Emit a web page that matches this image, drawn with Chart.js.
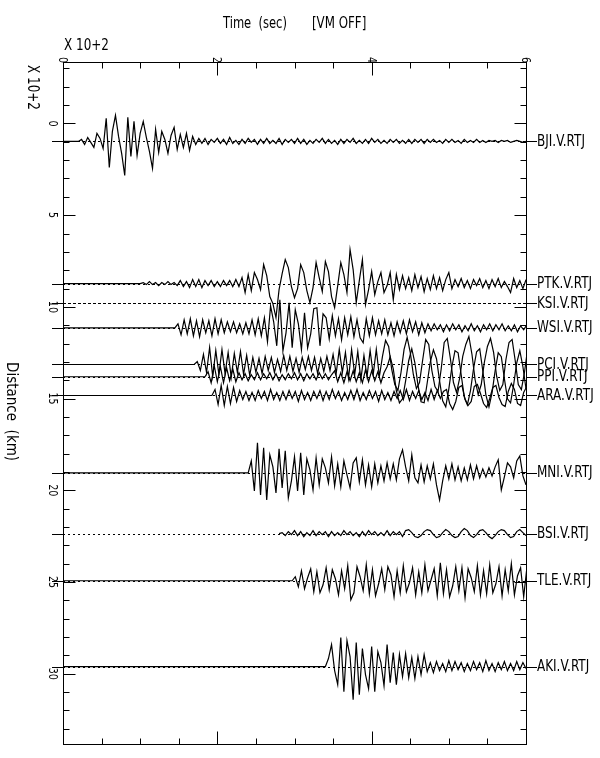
<!DOCTYPE html>
<html>
<head>
<meta charset="utf-8">
<script src="https://cdn.jsdelivr.net/npm/chart.js@4.4.1/dist/chart.umd.min.js"></script>
<style>
  html, body { margin: 0; padding: 0; background: #fff; }
  #wrap { position: relative; width: 600px; height: 758px; }
</style>
</head>
<body>
<div id="wrap"><canvas id="chart"></canvas></div>
<script>
// record section, time in x10+2 sec, distance in x10+2 km
const stations = ["BJI.V.RTJ", "PTK.V.RTJ", "KSI.V.RTJ", "WSI.V.RTJ", "PCI.V.RTJ", "PPI.V.RTJ",
  "ARA.V.RTJ", "MNI.V.RTJ", "BSI.V.RTJ", "TLE.V.RTJ", "AKI.V.RTJ"];
const distances = [0.98, 8.73, 9.81, 11.14, 13.14, 13.81, 14.83, 19.05, 22.36, 24.93, 29.61];
const onsets = [0.2, 1.0, null, 1.45, 1.7, 1.84, 1.93, 2.4, 2.8, 2.97, 3.4];
const flatFromZero = [true, true, false, true, true, true, true, true, false, true, true];
const deadTrace = [false, false, true, false, false, false, false, false, false, false, false];

const timeTicks = [0, 2, 4, 6];
const distanceTicks = [0, 5, 10, 15, 20, 25, 30];

const timeStep = 0.04;     // one sample = 4 sec
const countToKm = 0.0546;  // trace gain

// trace samples (counts), one every timeStep from the onset
const bji = [0,2,-3,4,-1,-6,8,3,-7,23,-26,10,26,5,-12,-34,24,-15,20,-14,8,20,4,-10,-27,12,-11,10,2,-12,6,14,-8,7,-6,8,-9,5,-3,3,
  -2,3,-3,2,-1,3,-2,2,-3,4,-2,1,-3,2,-2,3,-1,2,-3,2,-2,3,-2,1,-2,3,-3,2,-1,2,-2,3,-2,2,-3,1,-2,2,-1,3,
  -2,2,-2,1,-3,2,-2,2,-1,3,-2,1,-2,2,-2,3,-1,2,-2,1,-2,2,-1,2,-2,1,-2,2,-2,2,-1,2,-2,2,-1,2,-1,1,-2,2,
  -1,2,-1,1,-2,2,-1,1,-1,2,-1,1,-1,1,0,1,-1,1,0,1,-1,0,1,0,-1,0,0,0,0,0];
const ptk = [0,1,-1,2,-1,1,-2,1,-1,2,-1,1,-2,
  3,-3,2,-4,4,-3,4,-4,
  3,-2,3,-3,2,-3,3,-2,3,-3,4,-3,
  6,-9,9,-7,
  11,4,-6,19,8,-13,-20,-34,-6,10,24,16,-3,-14,-5,19,11,-7,-19,-4,21,6,-8,22,12,-13,-24,-2,21,9,-9,34,14,-19,3,24,-21,-6,12,-11,2,11,-9,-2,11,-16,9,-6,
  8,-5,6,-7,9,-4,7,-8,5,-6,8,-5,6,-7,4,11,
  -5,4,-3,5,-4,3,-5,4,-2,5,-4,3,-5,4,-3,5,-4,2,-3,
  -9,5,-4,3,-5,4,-3];
const ksi = [];
const wsi = [0,4,-7,8,-6,9,-8,7,-9,8,-5,7,-8,9,-6,8,
  -5,6,-4,6,-5,4,-6,5,-6,
  8,-7,9,-8,10,
  -14,22,6,-18,28,-23,-5,25,-20,18,4,-22,15,-20,-6,19,20,-18,14,
  10,-11,12,-8,9,-12,10,-7,11,-9,8,-10,-15,9,-8,10,-7,
  7,-6,8,-7,5,-8,6,-5,7,-6,8,-4,6,-7,5,-5,
  4,-3,4,-2,3,-4,3,-3,4,-2,3,-4,2,-3,4,-3,2,-4,3,-2,4,-3,3,-2,4,-3,2,-3,3,-4,2,-2,3];
const pci = [0,3,-6,10,-8,17,-12,14,-10,15,-9,12,-13,11,-8,13,-10,9,-11,
  7,-8,6,-9,8,-6,7,-8,5,-7,9,-6,8,-7,6,-8,7,-5,8,-6,7,-9,6,-7,8,-6,
  10,-9,15,-8,12,-14,15,-10,13,-15,9,-12,14,-10,15,-12,8,
  24,18,-5,-20,-26,-8,15,27,12,-10,-24,-18,4,25,20,-6,-22,-27,-5,22,26,6,-18,-28,-14,8,20,28,10,-15,-30,-20,2,18,26,12,-12,-26,-20,5,22,25,4,-20,-25,-8,15];
const ppi = [0,5,-6,11,-5,10,-6,9,-4,8,-5,
  4,-3,3,-4,2,-3,4,-3,3,-2,4,-3,3,-4,2,-3,3,-2,4,-3,3,-4,3,-2,3,-3,4,-2,3,-3,2,
  6,-5,4,-6,5,-4,6,-5,4,-6,7,-5,6,-4,5,-6,4,
  10,20,8,-14,-26,-22,-4,16,28,14,-8,-25,-26,-6,15,27,18,-4,-24,-30,-12,10,26,24,2,-20,-28,-14,8,25,28,6,-18,-30,-16,6,24,20,-2,-22,-26,-8,14,26,10,-12];
const ara = [0,6,-9,10,-10,9,-8,8,-6,
  5,-4,4,-5,3,-5,5,-3,4,-5,6,-4,3,-5,4,-4,5,-3,4,-6,5,-4,3,-5,4,-3,5,-5,4,-4,6,-3,4,-5,3,-4,5,-4,6,-5,3,-4,5,-3,4,-6,5,-4,3,-5,4,-3,5,-4,6,-5,4,-3,5,-4,3,-5,6,-4,5,-3,4,
  6,-8,-14,-6,8,10,-4,-10,-6,9,11,2,-8,-12,-3,8,10,-2,-9,-11,4,12,6,-8,-10,3,9];
const mni = [0,12,-18,30,-22,25,-27,18,6,-20,24,-15,22,-25,-8,16,-18,20,-22,14,3,-17,
  15,-12,14,5,-10,16,-13,9,-14,12,-2,-15,10,15,-9,13,-12,8,-14,
  9,-10,7,-8,10,-6,9,-7,14,23,6,-8,18,-5,-10,8,-9,7,-6,9,-12,-27,-8,7,-6,9,
  -7,6,-8,5,-7,8,-6,7,-5,4,-4,5,-3,6,13,-17,-4,10,6,-5,12,17,-3,-12];
const bsi = [0,1,-2,2,-1,3,-2,2,-3,1,-2,3,-2,2,-1,2,-3,2,-2,1,-2,3,-1,2,-2,1,-3,2,-2,3,-1,2,-2,1,-2,3,-2,2,-1,2,-3,
  3,4,1,-3,-4,-2,2,4,3,-1,-4,-3,1,4,2,-2,-4,-3,2,5,3,-2,-4,-1,3,4,1,-3,-5,-2,2,4,3,-1,-4,-3,2,4,1,-2];
const tle = [0,4,-6,10,-8,3,12,-11,9,-12,-4,13,-9,11,2,-14,10,
  -8,15,-19,-12,14,4,-10,16,-13,11,-15,-3,12,-9,14,6,-16,10,-12,15,-11,-2,13,-14,9,-12,16,-10,1,12,-15,18,-13,11,-16,-5,
  14,-10,13,-17,12,3,-11,15,-14,10,-13,16,-12,-3,14,-15,11,-10,17,-14,5,13,-16,12,-18,15,-12,19,-17,14,-13,20,-19,16,-15,21,-18];
const aki = [0,8,22,-4,-18,29,-25,26,10,-33,24,-28,18,-8,-22,20,-25,15,4,-19,22,-16,14,-18,
  12,-10,13,-11,9,-12,10,-8,12,
  -5,4,-6,5,-4,3,-5,6,-4,5,-3,4,-5,3,-4,5,-3,4,-5,6,-4,3,-5,4,-3,5,-4,3,-4,5,-3,4,-2];

const traces = [bji, ptk, ksi, wsi, pci, ppi, ara, mni, bsi, tle, aki];

const FONT = '"DejaVu Sans"';

function drawText(ctx, text, x, y, size, squeeze, angle, align, baseline)
{
  ctx.save();
  ctx.translate(x, y);
  ctx.rotate(angle);
  ctx.scale(squeeze, 1);
  ctx.font = size + "px " + FONT;
  ctx.textAlign = align;
  ctx.textBaseline = baseline;
  ctx.fillStyle = "#000";
  ctx.fillText(text, 0, 0);
  ctx.restore();
}

const sectionFrame = {
  id: "sectionFrame",
  beforeDatasetsDraw(chart)
  {
    const {ctx, chartArea: a, scales: {y}} = chart;
    ctx.save();
    ctx.strokeStyle = "#000";
    ctx.lineWidth = 1;
    distances.forEach((d, k) => {
      const py = Math.round(y.getPixelForValue(d)) + 0.5;
      // zero line of each trace, dashed inside the frame
      ctx.setLineDash(deadTrace[k] ? [3, 2] : [2, 3]);
      ctx.beginPath();
      ctx.moveTo(a.left, py);
      ctx.lineTo(a.right, py);
      ctx.stroke();
      ctx.setLineDash([]);
      ctx.beginPath();
      ctx.moveTo(a.left - 11, py);
      ctx.lineTo(a.left, py);
      ctx.moveTo(a.right, py);
      ctx.lineTo(a.right + 11, py);
      ctx.stroke();
    });
    ctx.restore();
  },
  afterDatasetsDraw(chart)
  {
    const {ctx, chartArea: a, scales: {x, y}} = chart;
    const L = Math.round(a.left) + 0.5, R = Math.round(a.right) + 0.5;
    const T = Math.round(a.top) + 0.5, B = Math.round(a.bottom) + 0.5;
    ctx.save();
    ctx.strokeStyle = "#000";
    ctx.lineWidth = 1;
    ctx.strokeRect(L, T, R - L, B - T);

    ctx.beginPath();
    x.ticks.forEach(t => {
      const px = Math.round(x.getPixelForValue(t.value)) + 0.5;
      const len = timeTicks.includes(t.value) ? 13 : 6;
      ctx.moveTo(px, T); ctx.lineTo(px, T + len);
      ctx.moveTo(px, B); ctx.lineTo(px, B - len);
    });
    y.ticks.forEach(t => {
      if (Math.abs(t.value - Math.round(t.value)) > 1e-6) return;
      const py = Math.round(y.getPixelForValue(t.value)) + 0.5;
      const len = distanceTicks.includes(t.value) ? 12 : 6;
      ctx.moveTo(L, py); ctx.lineTo(L + len, py);
      ctx.moveTo(R, py); ctx.lineTo(R - len, py);
    });
    ctx.stroke();
    ctx.restore();

    timeTicks.forEach(v => {
      drawText(ctx, String(v), x.getPixelForValue(v) - 1, a.top + 1, 12, 0.8, Math.PI / 2, "right", "middle");
    });
    distanceTicks.forEach(v => {
      drawText(ctx, String(v), a.left - 11, y.getPixelForValue(v), 12, 0.8, Math.PI / 2, "center", "middle");
    });

    stations.forEach((s, k) => {
      drawText(ctx, s, a.right + 11, y.getPixelForValue(distances[k]), 16, 0.75, 0, "left", "middle");
    });

    drawText(ctx, "Time  (sec)", 223, 28, 16, 0.72, 0, "left", "alphabetic");
    drawText(ctx, "[VM OFF]", 312, 28, 16, 0.74, 0, "left", "alphabetic");
    drawText(ctx, "X 10+2", 64, 50, 15, 0.8, 0, "left", "alphabetic");
    drawText(ctx, "X 10+2", 28, 65, 15, 0.8, Math.PI / 2, "left", "alphabetic");
    drawText(ctx, "Distance  (km)", 7, 362, 15, 0.9, Math.PI / 2, "left", "alphabetic");
  }
};

const datasets = stations.map((name, k) => {
  const pts = [];
  if (flatFromZero[k]) pts.push({x: 0, y: distances[k]});
  traces[k].forEach((v, i) => {
    pts.push({x: onsets[k] + i * timeStep, y: distances[k] - v * countToKm});
  });
  return {
    label: name,
    data: pts,
    borderColor: "#000",
    borderWidth: 1.2,
    pointRadius: 0,
    tension: 0,
    fill: false,
  };
});

new Chart(document.getElementById("chart"), {
  type: "line",
  data: {datasets: datasets},
  options: {
    animation: false,
    responsive: true,
    maintainAspectRatio: false,
    events: [],
    layout: {padding: {left: 63, top: 62, right: 74, bottom: 14}},
    plugins: {legend: {display: false}, tooltip: {enabled: false}},
    scales: {
      x: {
        type: "linear",
        position: "top",
        min: 0,
        max: 6,
        ticks: {stepSize: 0.5, display: false, includeBounds: false},
        grid: {display: false},
        border: {display: false},
        afterFit(s) { s.height = 0; },
      },
      y: {
        type: "linear",
        reverse: true,
        min: -3.35,
        max: 33.83,
        ticks: {stepSize: 1, display: false, includeBounds: false},
        grid: {display: false},
        border: {display: false},
        afterFit(s) { s.width = 0; },
      },
    },
  },
  plugins: [sectionFrame],
});
</script>
</body>
</html>
